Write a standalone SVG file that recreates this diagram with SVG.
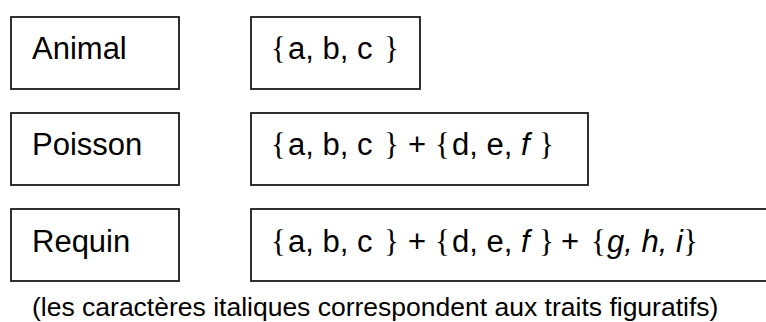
<svg xmlns="http://www.w3.org/2000/svg" width="766" height="322" viewBox="0 0 766 322">
<style>
.box{fill:#fff;stroke:#1a1a1a;stroke-width:1.8}
.t{font-family:"Liberation Sans",Arial,sans-serif;font-size:31px;fill:#000}
.br{font-family:"Liberation Serif","Times New Roman",serif;font-weight:normal}
.it{font-style:italic}
.cap{font-family:"Liberation Sans",Arial,sans-serif;font-size:26.5px;fill:#000}
</style>
<rect width="766" height="322" fill="#fff"/>
<g id="animal">
<rect class="box" x="11" y="17" width="168" height="72"/>
<text class="t" x="32" y="59">Animal</text>
</g>
<g id="animal-traits">
<rect class="box" x="251" y="17" width="169" height="72"/>
<text class="t" y="59"><tspan class="br" x="271">{</tspan><tspan x="288">a, b, c</tspan><tspan class="br" x="384">}</tspan></text>
</g>
<g id="poisson">
<rect class="box" x="11" y="113" width="168" height="72"/>
<text class="t" x="32" y="155">Poisson</text>
</g>
<g id="poisson-traits">
<rect class="box" x="251" y="113" width="337" height="72"/>
<text class="t" y="155"><tspan class="br" x="271">{</tspan><tspan x="288">a, b, c</tspan><tspan class="br" x="384">}</tspan><tspan x="408">+</tspan><tspan class="br" x="435">{</tspan><tspan x="452">d, e, </tspan><tspan class="it">f</tspan><tspan class="br" x="539">}</tspan></text>
</g>
<g id="requin">
<rect class="box" x="11" y="209" width="168" height="72"/>
<text class="t" x="32" y="252">Requin</text>
</g>
<g id="requin-traits">
<rect class="box" x="251" y="209" width="530" height="72"/>
<text class="t" y="252"><tspan class="br" x="271">{</tspan><tspan x="288">a, b, c</tspan><tspan class="br" x="384">}</tspan><tspan x="408">+</tspan><tspan class="br" x="435">{</tspan><tspan x="452">d, e, </tspan><tspan class="it">f</tspan><tspan class="br" x="539">}</tspan><tspan x="561">+</tspan><tspan class="br" x="591">{</tspan><tspan class="it" x="607">g, h, i</tspan><tspan class="br" x="683">}</tspan></text>
</g>
<g id="connectors"></g>
<text class="cap" x="32" y="316">(les caractères italiques correspondent aux traits figuratifs)</text>
</svg>
